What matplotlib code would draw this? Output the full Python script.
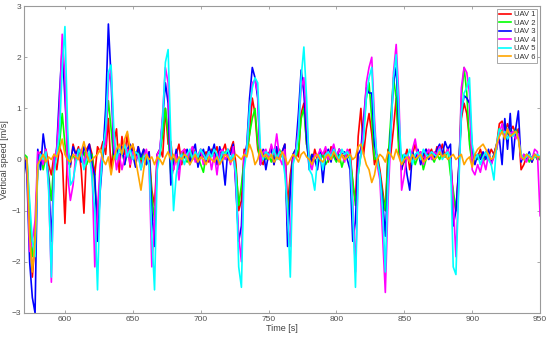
import numpy as np
import matplotlib
matplotlib.use("Agg")
import matplotlib.pyplot as plt

plt.rcParams['font.family'] = ['Liberation Sans', 'DejaVu Sans']

# time grid [s], one sample every 2 s
t = np.arange(570, 951, 2)

# vertical speed [m/s]
uav1 = [0.05, -0.1, -1.2, -2.3, -1.6, -0.1, 0.15, 0.0, 0.2, -0.1,
        -0.3, 0.1, -0.2, 0.25, 0.1, -1.25, 0.2, -0.15, 0.3, 0.1,
        0.25, -0.2, -1.05, 0.2, 0.3, 0.1, -0.3, 0.25, 0.15, 0.35,
        0.1, 0.8, -0.2, 0.3, 0.6, -0.25, 0.45, 0.1, 0.5, -0.15,
        0.3, 0.05, 0.25, -0.1, 0.2, 0.0, 0.15, -0.6, -0.9, 0.1,
        0.2, 0.05, 1.0, 0.3, 0.35, -0.2, 0.1, 0.3, -0.1, 0.2,
        0.15, -0.05, 0.25, 0.1, -0.1, 0.2, 0.05, 0.15, -0.05, 0.2,
        0.1, 0.25, -0.05, 0.15, 0.3, 0.0, 0.2, 0.35, -0.1, -1.0,
        -0.8, 0.2, 0.1, 0.5, 1.2, 0.9, 0.2, 0.0, -0.1, 0.15,
        0.1, 0.25, -0.1, 0.2, 0.05, 0.15, 0.3, -0.9, -0.3, 0.1,
        0.2, 0.05, 0.9, 1.1, 0.3, 0.1, -0.1, 0.2, 0.0, 0.15,
        0.05, 0.2, -0.05, 0.25, 0.1, 0.0, 0.2, 0.1, 0.05, 0.15,
        0.2, -0.5, -0.8, 0.45, 1.0, 0.1, 0.6, 0.9, 0.5, -0.1,
        0.1, -0.2, -0.6, -1.0, 0.2, 0.1, 0.6, 1.2, 0.3, -0.2,
        0.0, 0.2, -0.2, 0.1, 0.3, 0.05, 0.15, -0.05, 0.2, 0.1,
        0.2, 0.0, 0.25, 0.1, 0.3, 0.05, 0.2, 0.0, -0.7, -1.0,
        -0.2, 0.8, 1.1, 0.9, 0.4, -0.1, 0.1, 0.05, 0.2, 0.0,
        0.15, 0.05, 0.2, 0.1, 0.3, 0.7, 0.75, 0.5, 0.7, 0.55,
        0.65, 0.5, 0.6, -0.2, -0.1, 0.05, 0.1, -0.05, 0.1, 0.0,
        0.05]
uav2 = [0.1, 0.05, -1.0, -1.9, -1.5, -0.1, 0.1, -0.2, 0.05, -0.3,
        -0.8, 0.0, 0.1, 0.3, 0.9, 0.3, -0.1, 0.05, 0.1, -0.05,
        0.1, 0.0, 0.15, -0.1, 0.05, 0.1, -0.5, -1.1, -0.3, 0.1,
        0.5, 1.15, 0.6, 0.0, 0.1, 0.05, 0.2, -0.1, 0.15, 0.0,
        0.1, -0.05, 0.2, 0.0, 0.15, -0.1, 0.05, -0.7, -1.2, -0.1,
        0.1, 0.5, 1.0, 0.5, -0.3, 0.0, 0.1, -0.1, 0.15, 0.05,
        -0.05, 0.1, 0.0, 0.15, 0.05, -0.1, -0.25, 0.1, 0.0, 0.1,
        0.05, -0.1, 0.1, 0.0, 0.15, 0.05, -0.05, 0.1, -0.2, -0.9,
        -0.5, 0.0, 0.1, 0.5, 0.8, 1.0, 0.3, -0.1, 0.05, 0.0,
        0.1, -0.05, 0.15, 0.0, 0.2, 0.05, 0.1, -1.3, -0.5, 0.0,
        0.05, 0.2, 0.8, 1.0, 0.3, -0.05, 0.1, 0.0, -0.1, 0.05,
        0.1, -0.1, 0.0, 0.15, 0.05, -0.05, 0.1, -0.15, 0.05, 0.1,
        0.0, -0.4, -0.9, -0.3, 0.1, 0.6, 1.2, 1.5, 0.8, 0.0,
        0.05, -0.3, -0.7, -1.0, 0.0, 0.8, 1.6, 1.2, 0.1, 0.1,
        -0.05, 0.1, 0.0, 0.15, -0.1, 0.05, 0.1, -0.2, 0.0, 0.1,
        0.05, -0.05, 0.1, 0.0, 0.15, 0.05, 0.2, -0.3, -0.6, -1.0,
        -0.3, 1.2, 1.8, 1.3, 0.3, -0.1, 0.05, 0.0, 0.1, -0.05,
        0.05, 0.1, -0.05, 0.1, 0.2, 0.6, 0.55, 0.7, 0.5, 0.6,
        0.5, 0.6, 0.45, 0.05, 0.0, 0.1, -0.05, 0.05, 0.1, 0.0,
        0.0]
uav3 = [0.05, -0.3, -2.0, -2.7, -3.0, 0.2, -0.2, 0.5, 0.1, -0.4,
        -1.6, -0.2, 0.25, 1.3, 2.2, 1.2, 0.2, -0.1, 0.25, 0.1,
        0.2, -0.05, 0.25, 0.1, 0.3, -0.1, -0.3, -1.6, -0.6, 0.1,
        1.0, 2.65, 1.6, 0.1, 0.2, 0.0, 0.25, -0.1, 0.2, 0.3,
        0.1, -0.15, 0.25, 0.05, 0.2, -0.1, 0.15, -1.0, -1.7, 0.1,
        0.2, 0.8, 1.5, 1.1, -0.5, -0.1, 0.2, -0.2, 0.1, 0.05,
        0.2, -0.1, 0.15, 0.3, -0.15, 0.1, 0.2, -0.05, 0.25, 0.1,
        0.3, -0.1, 0.25, 0.0, -0.5, 0.2, 0.1, 0.3, -0.6, -1.6,
        -1.3, 0.0, 0.3, 1.2, 1.8, 1.6, 1.2, -0.1, 0.2, -0.2,
        0.1, 0.2, -0.1, 0.25, 0.0, 0.15, 0.3, -1.7, -0.6, 0.1,
        0.2, 0.9, 1.75, 1.3, 0.4, -0.2, 0.1, 0.0, -0.2, 0.2,
        -0.45, 0.1, 0.2, -0.05, 0.25, 0.0, 0.2, 0.1, 0.15, 0.0,
        -0.2, -1.6, -1.2, 0.1, 0.2, 0.8, 1.4, 1.3, 1.3, 0.3,
        0.0, -0.3, -0.8, -1.5, -0.3, 0.6, 1.5, 1.8, 0.6, -0.2,
        0.1, -0.3, -0.6, 0.15, 0.0, 0.2, -0.1, 0.1, 0.2, 0.0,
        0.15, 0.0, 0.2, 0.3, 0.1, 0.35, 0.2, 0.3, -1.3, -1.0,
        -0.2, 0.9, 1.25, 1.2, 1.1, 0.2, -0.1, 0.1, 0.0, 0.15,
        0.0, 0.2, -0.1, 0.1, 0.3, 0.4, -0.1, 0.8, 0.2, 0.9,
        0.0, 0.6, 0.95, -0.05, 0.1, 0.0, 0.15, -0.05, 0.1, 0.05,
        0.05]
uav4 = [0.05, 0.0, -1.8, -1.6, -1.2, 0.15, 0.1, -0.1, 0.2, -0.5,
        -2.4, 0.0, 0.2, 1.0, 2.45, 1.6, -0.3, -0.8, -0.5, 0.1,
        0.0, 0.2, -0.1, 0.15, 0.05, -0.2, -2.1, -1.0, -0.1, 0.2,
        0.3, 1.5, 1.8, 0.3, -0.2, 0.1, -0.2, 0.05, 0.2, -0.1,
        0.15, 0.0, 0.1, -0.2, 0.05, 0.2, -0.1, -2.1, -1.2, 0.1,
        0.2, 0.9, 1.8, 1.5, 0.0, -0.2, 0.1, -0.4, 0.15, 0.2,
        0.0, 0.15, 0.25, -0.05, 0.1, 0.2, -0.1, 0.05, 0.15, -0.2,
        0.1, -0.3, 0.15, 0.2, 0.0, 0.1, -0.1, 0.25, -0.5, -1.5,
        -2.0, 0.1, 0.2, 0.9, 1.5, 1.55, 1.3, -0.1, 0.15, 0.2,
        0.0, 0.3, 0.1, 0.5, 0.05, -0.1, 0.2, -1.2, -1.7, 0.0,
        0.15, 0.6, 1.4, 1.6, 0.8, 0.0, -0.2, 0.1, 0.05, 0.2,
        0.1, 0.25, 0.0, 0.15, 0.3, 0.05, 0.2, 0.1, -0.05, 0.2,
        0.1, -0.8, -2.2, -0.2, 0.1, 0.6, 1.5, 1.8, 2.0, 0.8,
        -0.1, -0.4, -1.5, -2.6, -0.8, 0.4, 1.7, 2.25, 1.2, -0.6,
        -0.3, 0.1, 0.0, 0.2, 0.4, 0.05, 0.15, -0.1, 0.1, 0.2,
        0.0, 0.15, 0.1, 0.25, 0.05, 0.1, 0.2, 0.0, -0.8, -1.9,
        -0.5, 1.4, 1.8, 1.7, 1.3, -0.2, -0.3, -0.1, -0.25, 0.0,
        -0.2, 0.1, -0.1, 0.05, 0.2, 0.5, 0.7, 0.45, 0.6, 0.5,
        0.55, 0.4, 0.5, 0.0, 0.1, -0.05, 0.1, 0.0, 0.2, 0.15,
        -1.1]
uav5 = [0.05, 0.0, -0.8, -1.6, -1.9, -0.2, 0.1, 0.0, 0.15, -0.6,
        -2.3, -0.3, 0.1, 0.5, 1.8, 2.6, 0.6, -0.5, -0.4, -0.1,
        0.2, 0.1, -0.2, 0.0, 0.15, -0.4, -1.0, -2.55, -0.5, 0.2,
        0.6, 1.7, 1.85, 0.6, 0.0, 0.2, 0.1, 0.3, 0.05, 0.2,
        0.0, 0.15, 0.1, -0.2, 0.05, 0.1, -0.1, -1.5, -2.55, -0.2,
        0.1, 0.8, 1.9, 2.15, 0.4, -1.0, -0.3, 0.0, 0.1, -0.1,
        0.1, 0.2, 0.0, 0.15, 0.05, 0.2, 0.1, 0.0, 0.15, 0.05,
        0.2, 0.1, -0.05, 0.15, 0.1, 0.2, 0.0, 0.1, -0.3, -2.1,
        -2.5, -0.2, 0.2, 1.0, 1.4, 1.6, 1.5, 0.2, 0.0, 0.15,
        0.1, 0.05, 0.2, 0.0, 0.15, 0.1, -0.3, -1.0, -2.3, -0.1,
        0.1, 0.5, 1.6, 2.2, 1.2, -0.2, -0.3, -0.6, 0.0, 0.1,
        -0.2, 0.1, 0.15, 0.05, 0.2, 0.1, 0.0, 0.2, 0.1, 0.15,
        0.05, -1.0, -2.5, -0.3, 0.1, 0.4, 1.2, 1.6, 1.8, 0.6,
        0.0, -0.3, -1.0, -2.2, -0.4, 0.5, 1.6, 2.05, 0.9, -0.1,
        0.1, 0.05, 0.2, -0.1, 0.1, 0.15, 0.0, 0.2, 0.1, 0.05,
        0.15, 0.1, 0.05, 0.2, 0.0, 0.1, 0.15, 0.0, -2.1, -2.25,
        -0.6, 0.9, 1.3, 1.4, 1.6, 0.3, 0.0, 0.1, -0.1, 0.05,
        0.15, 0.0, -0.1, -0.4, 0.3, 0.6, 0.5, 0.55, 0.4, 0.5,
        0.45, 0.55, 0.4, 0.1, 0.0, 0.05, 0.1, 0.0, 0.05, 0.1,
        0.05]
uav6 = [0.05, 0.0, -1.5, -2.2, -1.6, -0.1, 0.0, 0.1, -0.05, 0.05,
        0.0, 0.1, 0.05, 0.2, 0.4, 0.1, 0.0, -0.05, 0.1, 0.05,
        0.0, 0.15, 0.35, 0.1, -0.05, 0.0, 0.05, 0.1, 0.2, 0.0,
        -0.1, 0.05, -0.3, 0.0, 0.2, 0.3, 0.1, 0.4, 0.55, 0.2,
        0.3, 0.0, -0.3, -0.6, -0.2, 0.1, 0.0, 0.05, -0.1, 0.05,
        0.0, -0.1, 0.05, 0.15, 0.0, 0.1, -0.05, 0.05, 0.0, 0.1,
        0.05, -0.1, 0.0, 0.1, -0.05, 0.05, 0.0, -0.1, 0.05, 0.0,
        -0.05, 0.05, -0.1, 0.0, 0.1, 0.05, -0.05, 0.0, 0.1, 0.05,
        0.0, 0.1, 0.05, 0.3, 0.15, -0.1, 0.0, 0.2, 0.05, 0.1,
        0.0, 0.1, -0.05, 0.05, 0.0, 0.15, 0.05, -0.1, 0.0, 0.1,
        0.05, -0.05, 0.1, 0.15, 0.05, 0.0, -0.1, 0.05, 0.1, 0.0,
        -0.05, 0.05, 0.1, 0.0, 0.15, 0.05, -0.05, 0.1, 0.0, 0.05,
        0.1, 0.0, 0.05, 0.25, 0.3, 0.1, -0.1, -0.2, -0.45, -0.3,
        0.0, 0.1, 0.05, -0.05, 0.15, 0.1, 0.0, 0.2, 0.05, -0.1,
        0.0, 0.05, -0.05, 0.1, 0.0, 0.05, 0.1, -0.05, 0.0, 0.05,
        0.1, 0.0, 0.05, 0.15, 0.05, 0.1, 0.0, 0.05, 0.1, 0.0,
        0.05, 0.1, -0.1, 0.0, 0.05, -0.15, 0.1, 0.2, 0.25, 0.3,
        0.2, 0.1, 0.0, 0.05, 0.3, 0.45, 0.55, 0.4, 0.6, 0.45,
        0.5, 0.55, 0.4, 0.05, 0.0, 0.1, 0.05, 0.0, 0.1, 0.05,
        0.05]

series = [uav1, uav2, uav3, uav4, uav5, uav6]
labels = ['UAV 1', 'UAV 2', 'UAV 3', 'UAV 4', 'UAV 5', 'UAV 6']
colors = ['#ff0000', '#00ff00', '#0000ff', '#ff00ff', '#00ffff', '#ffa500']

fig = plt.figure(figsize=(5.5, 3.39), dpi=100)
ax = fig.add_axes([0.044, 0.077, 0.938, 0.905])

for y, lab, c in zip(series, labels, colors):
    ax.plot(t, y, color=c, lw=1.2, label=lab)

ax.set_xlim(570, 950)
ax.set_ylim(-3, 3)
ax.set_xticks(np.arange(600, 951, 50))
ax.set_yticks(np.arange(-3, 4, 1))

grey = '#9a9a9a'
for s in ax.spines.values():
    s.set_color(grey)
    s.set_linewidth(0.8)
ax.tick_params(direction='in', length=2.5, width=0.6, color=grey,
               labelsize=6, labelcolor='#505050', top=True, right=True, pad=2)
ax.set_xlabel('Time [s]', fontsize=6.5, color='#404040', labelpad=1)
ax.set_ylabel('Vertical speed [m/s]', fontsize=6.5, color='#404040', labelpad=2)

leg = ax.legend(loc='upper right', fontsize=5.5, frameon=True, fancybox=False,
                framealpha=1, edgecolor=grey, borderaxespad=0.35,
                handlelength=1.6, handletextpad=0.3, borderpad=0.3,
                labelspacing=0.15)
leg.get_frame().set_linewidth(0.6)
for txt in leg.get_texts():
    txt.set_color('#303030')

fig.savefig('out.png', dpi=100)
